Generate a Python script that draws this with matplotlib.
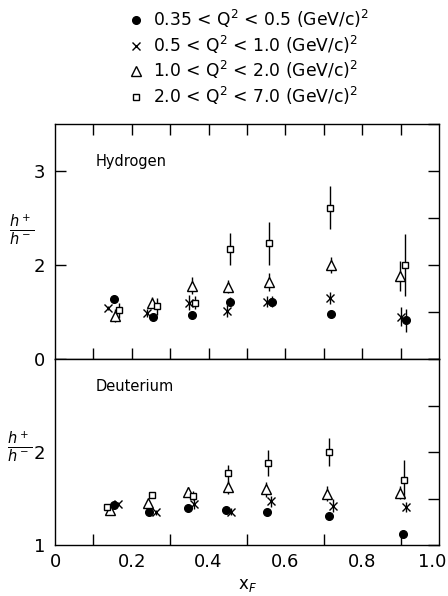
import matplotlib
matplotlib.use("Agg")
import matplotlib.pyplot as plt
import matplotlib.transforms as mtransforms
from matplotlib.lines import Line2D
from matplotlib.ticker import MultipleLocator, FixedLocator

# Q^2 bins
bin_labels = [r'0.35 < Q$^2$ < 0.5 (GeV/c)$^2$',
              r'0.5 < Q$^2$ < 1.0 (GeV/c)$^2$',
              r'1.0 < Q$^2$ < 2.0 (GeV/c)$^2$',
              r'2.0 < Q$^2$ < 7.0 (GeV/c)$^2$']

# hydrogen h+/h- vs x_F, one list per Q^2 bin
h_circ_x = [0.154, 0.256, 0.357, 0.456, 0.564, 0.718, 0.913]
h_circ_y = [1.64, 1.45, 1.47, 1.61, 1.61, 1.48, 1.41]
h_circ_e = [0.02, 0.02, 0.02, 0.05, 0.06, 0.02, 0.12]

h_cross_x = [0.139, 0.239, 0.350, 0.447, 0.551, 0.716, 0.901]
h_cross_y = [1.54, 1.49, 1.60, 1.51, 1.61, 1.65, 1.45]
h_cross_e = [0.02, 0.04, 0.08, 0.06, 0.06, 0.06, 0.10]

h_tri_x = [0.155, 0.252, 0.356, 0.451, 0.558, 0.718, 0.898]
h_tri_y = [1.46, 1.60, 1.78, 1.77, 1.82, 2.00, 1.88]
h_tri_e = [0.07, 0.06, 0.09, 0.07, 0.10, 0.08, 0.16]

h_sq_x = [0.167, 0.265, 0.365, 0.456, 0.556, 0.716, 0.911]
h_sq_y = [1.52, 1.56, 1.60, 2.17, 2.23, 2.61, 2.00]
h_sq_e = [0.08, 0.09, 0.07, 0.17, 0.23, 0.23, 0.33]

# deuterium
d_circ_x = [0.154, 0.246, 0.346, 0.445, 0.553, 0.714, 0.905]
d_circ_y = [1.43, 1.35, 1.40, 1.38, 1.36, 1.31, 1.12]
d_circ_e = [0.02, 0.02, 0.03, 0.02, 0.02, 0.04, 0.04]

d_cross_x = [0.163, 0.263, 0.363, 0.458, 0.562, 0.723, 0.914]
d_cross_y = [1.44, 1.35, 1.44, 1.36, 1.47, 1.42, 1.41]
d_cross_e = [0.02, 0.03, 0.05, 0.04, 0.06, 0.07, 0.05]

d_tri_x = [0.143, 0.243, 0.346, 0.450, 0.549, 0.709, 0.898]
d_tri_y = [1.38, 1.45, 1.57, 1.62, 1.60, 1.55, 1.56]
d_tri_e = [0.02, 0.03, 0.05, 0.07, 0.08, 0.08, 0.07]

d_sq_x = [0.136, 0.252, 0.360, 0.451, 0.554, 0.714, 0.909]
d_sq_y = [1.41, 1.54, 1.53, 1.77, 1.88, 2.00, 1.70]
d_sq_e = [0.02, 0.03, 0.05, 0.09, 0.14, 0.15, 0.21]

styles = [dict(marker='o', ms=5.5, mfc='black', mec='black'),
          dict(marker='x', ms=5.5, mec='black', mew=1.0),
          dict(marker='^', ms=7, mfc='white', mec='black', mew=1.0),
          dict(marker='s', ms=5, mfc='white', mec='black', mew=1.0)]

plt.rcParams['font.family'] = 'DejaVu Sans'

fig = plt.figure(figsize=(4.48, 5.96), dpi=100)
ax_h = fig.add_axes([55/448, 1-359/596, 384/448, 235/596])
ax_d = fig.add_axes([55/448, 1-545/596, 384/448, 186/596])


def draw(ax, series):
    for (x, y, e), st in zip(series, styles):
        ax.errorbar(x, y, yerr=e, fmt='none', ecolor='black', elinewidth=1.0, capsize=0, zorder=2)
        ax.plot(x, y, ls='none', color='black', zorder=3, **st)


draw(ax_h, [(h_circ_x, h_circ_y, h_circ_e), (h_cross_x, h_cross_y, h_cross_e),
            (h_tri_x, h_tri_y, h_tri_e), (h_sq_x, h_sq_y, h_sq_e)])
draw(ax_d, [(d_circ_x, d_circ_y, d_circ_e), (d_cross_x, d_cross_y, d_cross_e),
            (d_tri_x, d_tri_y, d_tri_e), (d_sq_x, d_sq_y, d_sq_e)])

for ax in (ax_h, ax_d):
    ax.set_xlim(0, 1.0)
    for s in ax.spines.values():
        s.set_linewidth(1.0)
    ax.xaxis.set_major_locator(FixedLocator([0.1, 0.2, 0.3, 0.4, 0.5, 0.6, 0.7, 0.8, 0.9]))
    ax.tick_params(axis='x', direction='in', length=8, width=1.0)
    ax.yaxis.set_minor_locator(MultipleLocator(0.5))
    ax.tick_params(axis='y', which='minor', direction='in', left=False, right=True, length=8, width=1.0)
    ax.tick_params(axis='y', which='major', direction='in', left=True, right=True, length=8, width=1.0,
                   labelsize=13, pad=7)

ax_h.set_ylim(1, 3.5)
ax_h.set_yticks([1, 2, 3])
ax_h.set_yticklabels(['0', '2', '3'])
ax_h.tick_params(axis='x', top=True, bottom=True, labelbottom=False)
ax_h.text(0.105, 0.84, 'Hydrogen', transform=ax_h.transAxes, fontsize=10.5, va='center')

ax_d.set_ylim(1, 3)
ax_d.set_yticks([1, 2])
ax_d.set_yticklabels(['1', '2'])
ax_d.tick_params(axis='y', which='major', left=False)
ax_d.tick_params(axis='x', top=False, bottom=True, labelsize=13, pad=6)
ax_d.set_xticks([0.0, 0.2, 0.4, 0.6, 0.8, 1.0], labels=['0', '0.2', '0.4', '0.6', '0.8', '1.0'])
ax_d.set_xticks([0.1, 0.3, 0.5, 0.7, 0.9], minor=True)
ax_d.tick_params(axis='x', which='both', direction='in', length=8, width=1.0)
ax_d.tick_params(axis='x', which='major', length=0)
# pull the last label in so it stays on the page
last = ax_d.get_xticklabels()[-1]
last.set_transform(last.get_transform() + mtransforms.ScaledTranslation(-7/100, 0, fig.dpi_scale_trans))
ax_d.set_xlabel(r'x$_F$', fontsize=12, labelpad=3)
ax_d.text(0.105, 0.85, 'Deuterium', transform=ax_d.transAxes, fontsize=10.5, va='center')

fig.text(22/448, 1-230/596, r'$\frac{h^+}{h^-}$', fontsize=15, ha='center', va='center')
fig.text(20/448, 1-447/596, r'$\frac{h^+}{h^-}$', fontsize=15, ha='center', va='center')

handles = [Line2D([], [], ls='none', color='black', **st) for st in styles]
fig.legend(handles, bin_labels, loc='upper left', bbox_to_anchor=(129/448, 1-8/596),
           frameon=False, fontsize=12.3, handlelength=0.8, handletextpad=0.6,
           labelspacing=0.2, borderaxespad=0, borderpad=0)

fig.savefig('out.png', dpi=100)
